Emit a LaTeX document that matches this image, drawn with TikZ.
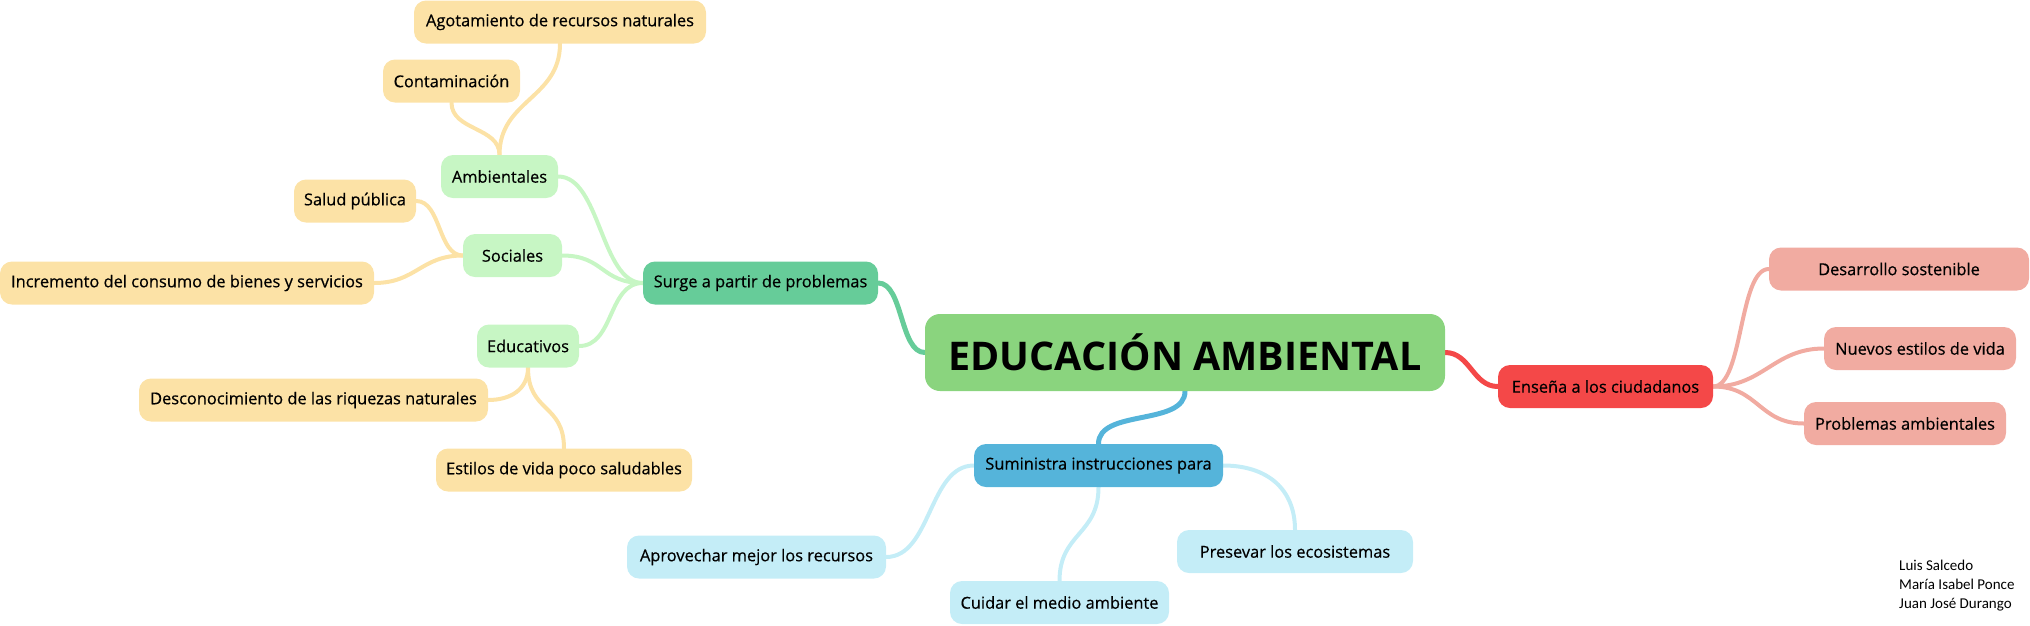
\documentclass[tikz,border=0pt]{standalone}
\usepackage{fontspec}
\setmainfont{Open Sans}
\newfontfamily\topicfont{Open Sans}[FakeBold=0.5]
\newfontfamily\creditfont{Carlito}
\usepackage{xcolor}
\usepackage{tikz}
\usetikzlibrary{backgrounds}
\definecolor{centreFill}{HTML}{8AD47E}
\definecolor{surgeFill}{HTML}{66CC99}
\definecolor{subGreen}{HTML}{C7F6C4}
\definecolor{leafOrange}{HTML}{FCE2A6}
\definecolor{sumFill}{HTML}{55B4DA}
\definecolor{leafBlue}{HTML}{C4EDF7}
\definecolor{ensFill}{HTML}{F44848}
\definecolor{leafSalmon}{HTML}{F1ABA1}

\tikzset{
  box/.style={rounded corners=12pt, minimum height=43pt, inner sep=0pt,
    text=black, font=\topicfont\fontsize{16.4}{19}\selectfont},
  centre/.style={box, fill=centreFill, rounded corners=15pt, minimum height=77pt,
    font=\fontsize{39.5}{44}\selectfont\bfseries},
  link/.style={line width=#1, line cap=round},
  link/.default=4pt
}

\begin{document}
\begin{tikzpicture}[x=1pt,y=-1pt]
  \useasboundingbox (0,0) rectangle (2030,625);

  % central topic
  \node[centre, minimum width=520pt] (edu) at (1185,352.5) {EDUCACIÓN AMBIENTAL};

  % left branch
  \node[box, fill=surgeFill, minimum width=235pt] (surge) at (760.5,283) {Surge a partir de problemas};
  \node[box, fill=subGreen, minimum width=117pt] (amb) at (499.5,176.5) {Ambientales};
  \node[box, fill=subGreen, minimum width=99pt] (soc) at (512.5,255.5) {Sociales};
  \node[box, fill=subGreen, minimum width=102pt] (educ) at (528,346) {Educativos};
  \node[box, fill=leafOrange, minimum width=292pt] (agot) at (560,22) {Agotamiento de recursos naturales};
  \node[box, fill=leafOrange, minimum width=137pt] (cont) at (451.5,81) {Contaminación};
  \node[box, fill=leafOrange, minimum width=122pt] (salud) at (355,201) {Salud pública};
  \node[box, fill=leafOrange, minimum width=374pt] (incr) at (187,283) {Incremento del consumo de bienes y servicios};
  \node[box, fill=leafOrange, minimum width=349pt] (desc) at (313.5,400) {Desconocimiento de las riquezas naturales};
  \node[box, fill=leafOrange, minimum width=256pt] (estil) at (564,470) {Estilos de vida poco saludables};

  % lower branch
  \node[box, fill=sumFill, minimum width=249pt] (sum) at (1098.5,465.5) {Suministra instrucciones para};
  \node[box, fill=leafBlue, minimum width=259pt] (aprov) at (756.5,557) {Aprovechar mejor los recursos};
  \node[box, fill=leafBlue, minimum width=219pt] (cuid) at (1059.5,602.5) {Cuidar el medio ambiente};
  \node[box, fill=leafBlue, minimum width=236pt] (pres) at (1295,551.5) {Presevar los ecosistemas};

  % right branch
  \node[box, fill=ensFill, minimum width=215pt] (ens) at (1605.5,386.5) {Enseña a los ciudadanos};
  \node[box, fill=leafSalmon, minimum width=260pt] (desa) at (1899,269) {Desarrollo sostenible};
  \node[box, fill=leafSalmon, minimum width=192pt] (nuev) at (1920,348.5) {Nuevos estilos de vida};
  \node[box, fill=leafSalmon, minimum width=202pt] (prob) at (1905,423.5) {Problemas ambientales};

  % authors
  \node[anchor=north west, align=left, inner sep=0pt,
        font=\creditfont\fontsize{15}{18.8}\selectfont] (authors) at (1899,560)
    {Luis Salcedo\\María Isabel Ponce\\Juan José Durango};

  \begin{scope}[on background layer]
    \draw[link=5pt, surgeFill] (edu.west) .. controls +(-25,0) and +(25,0) .. (surge.east);
    \draw[link=5pt, sumFill] (edu.south) .. controls +(0,35) and +(0,-35) .. (sum.north);
    \draw[link=5pt, ensFill] (edu.east) .. controls +(25,0) and +(-25,0) .. (ens.west);

    \draw[link, subGreen] (surge.west) .. controls +(-42,0) and +(42,0) .. (amb.east);
    \draw[link, subGreen] (surge.west) .. controls +(-42,0) and +(42,0) .. (soc.east);
    \draw[link, subGreen] (surge.west) .. controls +(-35,0) and +(35,0) .. (educ.east);

    \draw[link, leafOrange] (amb.north) .. controls +(0,-55) and +(0,55) .. (agot.south);
    \draw[link, leafOrange] (amb.north) .. controls +(0,-28) and +(0,28) .. (cont.south);
    \draw[link, leafOrange] (soc.west) .. controls +(-25,0) and +(25,0) .. (salud.east);
    \draw[link, leafOrange] (soc.west) .. controls +(-42,0) and +(42,0) .. (incr.east);
    \draw[link, leafOrange] (educ.south) .. controls +(0,22) and +(22,0) .. (desc.east);
    \draw[link, leafOrange] (educ.south) .. controls +(0,45) and +(0,-45) .. (estil.north);

    \draw[link, leafBlue] (sum.west) .. controls +(-45,0) and +(45,0) .. (aprov.east);
    \draw[link, leafBlue] (sum.south) .. controls +(0,48) and +(0,-48) .. (cuid.north);
    \draw[link, leafBlue] (sum.east) .. controls +(45,0) and +(0,-40) .. (pres.north);

    \draw[link, leafSalmon] (ens.east) .. controls +(30,0) and +(-30,0) .. (desa.west);
    \draw[link, leafSalmon] (ens.east) .. controls +(50,0) and +(-50,0) .. (nuev.west);
    \draw[link, leafSalmon] (ens.east) .. controls +(45,0) and +(-45,0) .. (prob.west);
  \end{scope}
\end{tikzpicture}
\end{document}
